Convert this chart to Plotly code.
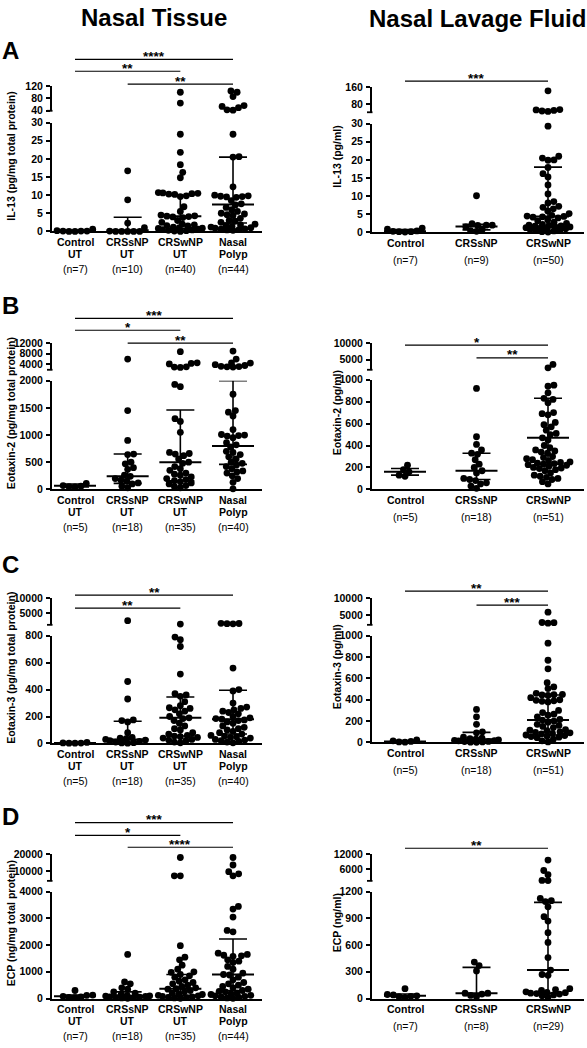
import math
import plotly.graph_objects as go

W, H = 587, 1048
FONT = "Liberation Sans, Arial, Helvetica, sans-serif"

# ---------------- categories ----------------
tissue_cat_line1 = ["Control", "CRSsNP", "CRSwNP", "Nasal"]
tissue_cat_line2 = ["UT", "UT", "UT", "Polyp"]
lavage_cats = ["Control", "CRSsNP", "CRSwNP"]

# ---------------- A: IL-13 ----------------
il13_tissue_n = [7, 10, 40, 44]
il13_tissue_control = [0.6, 0.2, 0.1, 0.1, 0.1, 0.0, 0.0]
il13_tissue_crssnp = [16.7, 8.7, 2.3, 1.0, 0.1, 0.0, 0.0, 0.0, 0.0, 0.0]
il13_tissue_crswnp = [100, 65, 26.8, 21.8, 18.4, 16.3, 14.8, 10.7, 10.6, 10.5, 10.4, 10.3, 10.2, 9.8, 9.6,
                      6.8, 5.5, 4.5, 4.3, 4.2, 4.1, 4.0, 3.8, 3.0, 2.5, 2.0, 1.8, 1.6, 1.5, 1.2, 1.0,
                      0.9, 0.8, 0.6, 0.5, 0.4, 0.3, 0.2, 0.1, 0.0]
il13_tissue_polyp = [104, 100, 86, 57, 54, 50, 43, 42, 26.8, 20.6, 20.5, 12.3, 10.0, 9.8, 9.7, 9.6, 9.5, 9.4,
                     8.5, 7.6, 7.3, 6.6, 6.0, 5.5, 5.0, 4.8, 4.6, 4.4, 3.6, 3.0, 2.8, 2.5, 2.0, 1.8, 1.6,
                     1.4, 1.2, 1.0, 0.9, 0.7, 0.6, 0.5, 0.4, 0.3]
il13_tissue_median = [0.1, 0.3, 4.2, 7.4]
il13_tissue_q1 = [0.0, 0.0, 0.8, 2.3]
il13_tissue_q3 = [0.3, 3.9, 9.9, 20.5]
il13_tissue_lower_ticks = [0, 5, 10, 15, 20, 25, 30]
il13_tissue_upper_ticks = [40, 80, 120]

il13_lavage_n = [7, 9, 50]
il13_lavage_control = [1.2, 0.9, 0.4, 0.3, 0.2, 0.2, 0.1]
il13_lavage_crssnp = [10.1, 2.4, 2.0, 2.0, 1.9, 1.5, 0.8, 0.5, 0.3]
il13_lavage_crswnp = [142, 53, 51, 49, 46, 44, 29.3, 21.0, 20.5, 20.0, 19.9, 17.9, 16.2, 15.3, 13.1, 10.6,
                      8.5, 8.1, 7.2, 6.9, 6.5, 5.9, 5.2, 4.7, 4.5, 4.4, 4.3, 4.2, 4.0, 3.5, 3.2, 2.8, 2.5,
                      2.2, 2.0, 1.9, 1.8, 1.7, 1.6, 1.5, 1.4, 1.3, 1.2, 1.0, 0.8, 0.6, 0.5, 0.4, 0.2, 0.1]
il13_lavage_median = [0.3, 1.6, 4.4]
il13_lavage_q1 = [0.2, 0.7, 1.4]
il13_lavage_q3 = [0.8, 2.2, 18.0]
il13_lavage_lower_ticks = [0, 5, 10, 15, 20, 25, 30]
il13_lavage_upper_ticks = [80, 160]

# ---------------- B: Eotaxin-2 ----------------
eot2_tissue_n = [5, 18, 35, 40]
eot2_tissue_control = [110, 70, 60, 50, 45]
eot2_tissue_crssnp = [6000, 1450, 900, 650, 640, 500, 470, 400, 370, 260, 240, 200, 170, 150, 120, 100, 60, 30]
eot2_tissue_crswnp = [8800, 4600, 4400, 4200, 3100, 3000, 2900, 1930, 1890, 1300, 1250, 1050, 680, 660, 650,
                      620, 560, 500, 480, 420, 380, 350, 300, 280, 260, 230, 200, 180, 160, 140, 120, 100,
                      70, 50, 30]
eot2_tissue_polyp = [9000, 6000, 4600, 4500, 3900, 3600, 3300, 3200, 3100, 3000, 1750, 1450, 1420, 1350, 1100,
                     1010, 1000, 990, 980, 950, 860, 820, 780, 700, 680, 640, 600, 560, 500, 480, 450, 420,
                     380, 340, 320, 300, 250, 200, 130, 10]
eot2_tissue_median = [65, 240, 500, 800]
eot2_tissue_q1 = [45, 110, 160, 460]
eot2_tissue_q3 = [100, 650, 1460, 2000]
eot2_tissue_lower_ticks = [0, 500, 1000, 1500, 2000]
eot2_tissue_upper_ticks = [4000, 8000, 12000]

eot2_lavage_n = [5, 18, 51]
eot2_lavage_control = [220, 180, 160, 130, 120]
eot2_lavage_crssnp = [920, 480, 410, 360, 330, 320, 270, 230, 200, 170, 150, 100, 90, 80, 60, 50, 30, 10]
eot2_lavage_crswnp = [3600, 2600, 950, 940, 880, 830, 820, 790, 700, 690, 680, 610, 590, 570, 540, 510, 500,
                      470, 450, 400, 380, 360, 350, 340, 330, 300, 290, 280, 270, 260, 250, 245, 240, 235,
                      230, 225, 220, 210, 200, 195, 190, 180, 170, 150, 130, 120, 110, 100, 90, 70, 50]
eot2_lavage_median = [160, 170, 470]
eot2_lavage_q1 = [130, 90, 230]
eot2_lavage_q3 = [190, 330, 830]
eot2_lavage_lower_ticks = [0, 200, 400, 600, 800, 1000]
eot2_lavage_upper_ticks = [5000, 10000]

# ---------------- C: Eotaxin-3 ----------------
eot3_tissue_n = [5, 18, 35, 40]
eot3_tissue_control = [8, 4, 3, 2, 2]
eot3_tissue_crssnp = [2400, 460, 330, 175, 170, 160, 80, 45, 40, 35, 30, 25, 20, 15, 10, 6, 4, 2]
eot3_tissue_crswnp = [1250, 790, 770, 720, 515, 370, 360, 350, 310, 280, 265, 260, 250, 240, 220, 200, 190,
                      185, 170, 150, 130, 110, 100, 80, 70, 60, 55, 50, 45, 40, 30, 25, 20, 10, 5]
eot3_tissue_polyp = [1500, 1450, 1400, 1350, 560, 400, 390, 300, 270, 260, 250, 240, 230, 220, 200, 190, 185,
                     180, 175, 170, 160, 150, 130, 120, 110, 100, 90, 80, 70, 60, 55, 50, 45, 40, 30, 25,
                     20, 15, 10, 5]
eot3_tissue_median = [3, 30, 190, 180]
eot3_tissue_q1 = [2, 8, 55, 70]
eot3_tissue_q3 = [6, 165, 345, 395]
eot3_tissue_lower_ticks = [0, 200, 400, 600, 800]
eot3_tissue_upper_ticks = [5000, 10000]

eot3_lavage_n = [5, 18, 51]
eot3_lavage_control = [25, 15, 10, 5, 3]
eot3_lavage_crssnp = [310, 240, 170, 100, 90, 50, 40, 35, 30, 25, 20, 18, 15, 10, 8, 5, 3, 1]
eot3_lavage_crswnp = [5800, 2700, 2650, 2500, 930, 770, 690, 560, 520, 505, 460, 450, 448, 445, 440, 420, 400,
                      395, 390, 385, 380, 300, 280, 265, 255, 240, 215, 210, 200, 190, 170, 160, 150, 140,
                      120, 115, 110, 100, 95, 90, 85, 80, 70, 65, 60, 55, 50, 45, 30, 15, 5]
eot3_lavage_median = [8, 30, 210]
eot3_lavage_q1 = [4, 10, 70]
eot3_lavage_q3 = [18, 95, 445]
eot3_lavage_lower_ticks = [0, 200, 400, 600, 800, 1000]
eot3_lavage_upper_ticks = [5000, 10000]

# ---------------- D: ECP ----------------
ecp_tissue_n = [7, 18, 35, 44]
ecp_tissue_control = [300, 130, 120, 80, 60, 40, 30]
ecp_tissue_crssnp = [1650, 620, 550, 400, 350, 250, 200, 150, 120, 100, 90, 80, 60, 50, 40, 30, 20, 10]
ecp_tissue_crswnp = [18000, 7000, 7000, 1980, 1550, 1450, 1250, 1100, 1000, 980, 900, 850, 800, 700, 650, 600,
                     550, 500, 450, 400, 370, 350, 300, 250, 200, 170, 150, 120, 100, 80, 60, 40, 30, 20, 10]
ecp_tissue_polyp = [18000, 13500, 9500, 8200, 7000, 3450, 3350, 3050, 2550, 2500, 1700, 1650, 1620, 1600, 1580,
                    1450, 1400, 1350, 1200, 1100, 950, 900, 880, 800, 700, 600, 550, 500, 450, 400, 350, 300,
                    270, 250, 200, 180, 150, 120, 100, 80, 60, 40, 20, 10]
ecp_tissue_median = [80, 100, 370, 900]
ecp_tissue_q1 = [30, 40, 120, 300]
ecp_tissue_q3 = [130, 250, 900, 2230]
ecp_tissue_lower_ticks = [0, 1000, 2000, 3000, 4000]
ecp_tissue_upper_ticks = [10000, 20000]

ecp_lavage_n = [7, 8, 29]
ecp_lavage_control = [110, 45, 40, 30, 25, 20, 10]
ecp_lavage_crssnp = [410, 370, 310, 60, 60, 50, 35, 20]
ecp_lavage_crswnp = [9600, 5400, 3700, 1400, 1300, 1125, 1100, 1090, 1030, 920, 870, 740, 630, 460, 320, 270,
                     260, 110, 100, 90, 75, 70, 65, 60, 55, 50, 40, 30, 15]
ecp_lavage_median = [30, 60, 320]
ecp_lavage_q1 = [20, 35, 60]
ecp_lavage_q3 = [50, 350, 1080]
ecp_lavage_lower_ticks = [0, 300, 600, 900, 1200]
ecp_lavage_upper_ticks = [6000, 12000]

# ---------------- layout geometry (pixels) ----------------
L_X0, L_X1, L_C0, L_STEP = 52, 262, 75, 52.67
R_X0, R_X1, R_C0, R_STEP = 372, 584, 405, 71.5
DOT = 6.8
COLL = 6.0
MAXHALF = 22

panels = [
    dict(side="L", groups=[il13_tissue_control, il13_tissue_crssnp, il13_tissue_crswnp, il13_tissue_polyp],
         n=il13_tissue_n, med=il13_tissue_median, q1=il13_tissue_q1, q3=il13_tissue_q3,
         title="IL-13 (pg/mg total protein)", lmax=30, lt=il13_tissue_lower_ticks,
         umin=40, umax=120, ut=il13_tissue_upper_ticks, low=(118, 228), up=(81, 106),
         bars=[(0, 3, 54, "****"), (0, 2, 66, "**"), (1, 3, 79, "**")], letter="A", ly=45),
    dict(side="R", groups=[il13_lavage_control, il13_lavage_crssnp, il13_lavage_crswnp],
         n=il13_lavage_n, med=il13_lavage_median, q1=il13_lavage_q1, q3=il13_lavage_q3,
         title="IL-13 (pg/ml)", lmax=30, lt=il13_lavage_lower_ticks,
         umin=40, umax=160, ut=il13_lavage_upper_ticks, low=(119, 229), up=(82, 107.5),
         bars=[(0, 2, 76, "***")]),
    dict(side="L", groups=[eot2_tissue_control, eot2_tissue_crssnp, eot2_tissue_crswnp, eot2_tissue_polyp],
         n=eot2_tissue_n, med=eot2_tissue_median, q1=eot2_tissue_q1, q3=eot2_tissue_q3,
         title="Eotaxin-2 (pg/mg total protein)", lmax=2000, lt=eot2_tissue_lower_ticks,
         umin=2000, umax=12000, ut=eot2_tissue_upper_ticks, low=(379, 489), up=(341, 368),
         bars=[(0, 3, 316, "***"), (0, 2, 328, "*"), (1, 3, 341, "**")], letter="B", ly=303),
    dict(side="R", groups=[eot2_lavage_control, eot2_lavage_crssnp, eot2_lavage_crswnp],
         n=eot2_lavage_n, med=eot2_lavage_median, q1=eot2_lavage_q1, q3=eot2_lavage_q3,
         title="Eotaxin-2 (pg/ml)", lmax=1000, lt=eot2_lavage_lower_ticks,
         umin=2000, umax=10000, ut=eot2_lavage_upper_ticks, low=(378, 489), up=(341, 368),
         bars=[(0, 2, 343, "*"), (1, 2, 356, "**")]),
    dict(side="L", groups=[eot3_tissue_control, eot3_tissue_crssnp, eot3_tissue_crswnp, eot3_tissue_polyp],
         n=eot3_tissue_n, med=eot3_tissue_median, q1=eot3_tissue_q1, q3=eot3_tissue_q3,
         title="Eotaxin-3 (pg/mg total protein)", lmax=800, lt=eot3_tissue_lower_ticks,
         umin=1000, umax=10000, ut=eot3_tissue_upper_ticks, low=(637, 746), up=(599, 626),
         bars=[(0, 3, 596, "**"), (0, 2, 609, "**")], letter="C", ly=565),
    dict(side="R", groups=[eot3_lavage_control, eot3_lavage_crssnp, eot3_lavage_crswnp],
         n=eot3_lavage_n, med=eot3_lavage_median, q1=eot3_lavage_q1, q3=eot3_lavage_q3,
         title="Eotaxin-3 (pg/ml)", lmax=1000, lt=eot3_lavage_lower_ticks,
         umin=2000, umax=10000, ut=eot3_lavage_upper_ticks, low=(637, 745), up=(599, 626),
         bars=[(0, 2, 592, "**"), (1, 2, 606, "***")]),
    dict(side="L", groups=[ecp_tissue_control, ecp_tissue_crssnp, ecp_tissue_crswnp, ecp_tissue_polyp],
         n=ecp_tissue_n, med=ecp_tissue_median, q1=ecp_tissue_q1, q3=ecp_tissue_q3,
         title="ECP (ng/mg total protein)", lmax=4000, lt=ecp_tissue_lower_ticks,
         umin=4000, umax=20000, ut=ecp_tissue_upper_ticks, low=(896, 1004), up=(858, 885),
         bars=[(0, 3, 826, "***"), (0, 2, 839, "*"), (1, 3, 851, "****")], letter="D", ly=820),
    dict(side="R", groups=[ecp_lavage_control, ecp_lavage_crssnp, ecp_lavage_crswnp],
         n=ecp_lavage_n, med=ecp_lavage_median, q1=ecp_lavage_q1, q3=ecp_lavage_q3,
         title="ECP (ng/ml)", lmax=1200, lt=ecp_lavage_lower_ticks,
         umin=1200, umax=12000, ut=ecp_lavage_upper_ticks, low=(896, 1004), up=(858, 885),
         bars=[(0, 2, 852, "**")]),
]


def swarm(pys, d, maxhalf):
    """Beeswarm x-offsets (px) for points at pixel heights pys, limited to +/- maxhalf."""
    n = len(pys)
    order = sorted(range(n), key=lambda i: -pys[i])
    xs = [0.0] * n
    placed = []
    for k, i in enumerate(order):
        y = pys[i]
        near = [(xj, yj) for (xj, yj) in placed if abs(y - yj) < d]
        forb = []
        for (xj, yj) in near:
            dx = math.sqrt(d * d - (y - yj) ** 2)
            forb.append((xj - dx, xj + dx))
        cands = [0.0] + [a for a, b in forb] + [b for a, b in forb]
        cands.sort(key=lambda c: (round(abs(c), 4), c if k % 2 else -c))
        chosen = None
        for c in cands:
            if abs(c) > maxhalf + 1e-6:
                break
            if all(not (a + 1e-6 < c < b - 1e-6) for a, b in forb):
                chosen = c
                break
        if chosen is None:
            best, bscore = 0.0, None
            steps = int(maxhalf * 2)
            for s in range(-steps, steps + 1):
                c = s / 2.0
                pen = sum(max(0.0, d - math.hypot(c - xj, y - yj)) for (xj, yj) in near)
                score = pen + 0.02 * abs(c)
                if bscore is None or score < bscore:
                    best, bscore = c, score
            chosen = best
        xs[i] = chosen
        placed.append((chosen, y))
    return xs


def yp(px):
    return 1 - px / H


def xp(px):
    return px / W


fig = go.Figure()
layout = {}
annotations = []
shapes = []

tickfont = dict(family=FONT, size=10.5, color="black", weight="bold")

for p, P in enumerate(panels):
    xi, yl, yu = p + 1, 2 * p + 1, 2 * p + 2
    xname = "x" if xi == 1 else f"x{xi}"
    ylname = "y" if yl == 1 else f"y{yl}"
    yuname = f"y{yu}"
    if P["side"] == "L":
        X0, X1, C0, STEP = L_X0, L_X1, L_C0, L_STEP
    else:
        X0, X1, C0, STEP = R_X0, R_X1, R_C0, R_STEP
    r0, r1 = (X0 - C0) / STEP, (X1 - C0) / STEP
    lt_px, lb_px = P["low"]
    ut_px, ub_px = P["up"]
    lmax, umin, umax = P["lmax"], P["umin"], P["umax"]

    layout["xaxis" + ("" if xi == 1 else str(xi))] = dict(
        domain=[xp(X0), xp(X1)], range=[r0, r1], anchor=ylname, showline=True, linewidth=2,
        linecolor="black", showticklabels=False, ticks="", showgrid=False, zeroline=False, fixedrange=True)
    yax_common = dict(anchor=xname, showline=True, linewidth=2, linecolor="black", ticks="outside",
                      ticklen=4, tickwidth=1.6, tickcolor="black", showgrid=False, zeroline=False,
                      tickfont=tickfont, fixedrange=True, ticklabelstandoff=1)
    layout["yaxis" + ("" if yl == 1 else str(yl))] = dict(
        domain=[yp(lb_px), yp(lt_px)], range=[0, lmax], tickvals=P["lt"],
        ticktext=[str(v) for v in P["lt"]], **yax_common)
    layout["yaxis" + str(yu)] = dict(
        domain=[yp(ub_px), yp(ut_px)], range=[umin, umax], tickvals=P["ut"],
        ticktext=[str(v) for v in P["ut"]], **yax_common)

    def to_px(v):
        if v <= lmax:
            return lb_px - v / lmax * (lb_px - lt_px)
        return ub_px - (v - umin) / (umax - umin) * (ub_px - ut_px)

    lx, ly, ux, uy = [], [], [], []
    for gi, vals in enumerate(P["groups"]):
        offs = swarm([to_px(v) for v in vals], COLL, MAXHALF)
        for v, o in zip(vals, offs):
            if v <= lmax:
                lx.append(gi + o / STEP)
                ly.append(v)
            else:
                ux.append(gi + o / STEP)
                uy.append(v)
    mk = dict(size=DOT, color="black", line=dict(width=0))
    fig.add_trace(go.Scatter(x=lx, y=ly, xaxis=xname, yaxis=ylname, mode="markers", marker=mk,
                             cliponaxis=False, showlegend=False, hoverinfo="skip"))
    fig.add_trace(go.Scatter(x=ux, y=uy, xaxis=xname, yaxis=yuname, mode="markers", marker=mk,
                             cliponaxis=False, showlegend=False, hoverinfo="skip"))

    # median and interquartile range
    mh, ch = 21 / STEP, 14 / STEP
    mxs, mys, ex, ey = [], [], [], []
    for gi in range(len(P["groups"])):
        m, a, b = P["med"][gi], P["q1"][gi], P["q3"][gi]
        mxs += [gi - mh, gi + mh, None]
        mys += [m, m, None]
        ex += [gi, gi, None, gi - ch, gi + ch, None, gi - ch, gi + ch, None]
        ey += [a, b, None, a, a, None, b, b, None]
    fig.add_trace(go.Scatter(x=ex, y=ey, xaxis=xname, yaxis=ylname, mode="lines",
                             line=dict(color="black", width=1.6), cliponaxis=False,
                             showlegend=False, hoverinfo="skip"))
    fig.add_trace(go.Scatter(x=mxs, y=mys, xaxis=xname, yaxis=ylname, mode="lines",
                             line=dict(color="black", width=2), cliponaxis=False,
                             showlegend=False, hoverinfo="skip"))

    # break cap at bottom of upper segment
    shapes.append(dict(type="line", xref="paper", yref="paper", x0=xp(X0 - 5), x1=xp(X0 + 0.5),
                       y0=yp(ub_px), y1=yp(ub_px), line=dict(color="black", width=1.8)))

    # significance bars
    for a, b, ypx, stars in P["bars"]:
        shapes.append(dict(type="line", xref=xname, yref="paper", x0=a, x1=b, y0=yp(ypx), y1=yp(ypx),
                           line=dict(color="black", width=1.2)))
        annotations.append(dict(x=(a + b) / 2, xref=xname, y=yp(ypx - 3), yref="paper",
                                text=f"<b>{stars}</b>", showarrow=False, yanchor="middle",
                                xanchor="center", font=dict(family=FONT, size=13.5, color="black")))

    # category labels
    for gi in range(len(P["groups"])):
        if P["side"] == "L":
            lines = [(tissue_cat_line1[gi], 11, True), (tissue_cat_line2[gi], 23, True),
                     (f"(n={P['n'][gi]})", 38, False)]
        else:
            lines = [(lavage_cats[gi], 11, True), (f"(n={P['n'][gi]})", 28, False)]
        for txt, off, bold in lines:
            annotations.append(dict(x=gi, xref=xname, y=yp(lb_px + off), yref="paper",
                                    text=f"<b>{txt}</b>" if bold else txt, showarrow=False,
                                    xanchor="center", yanchor="middle",
                                    font=dict(family=FONT, size=10.5, color="black")))

    # y axis title
    tx = 11 if P["side"] == "L" else 337
    annotations.append(dict(x=xp(tx), xref="paper", y=yp((ut_px + lb_px) / 2 - 3), yref="paper",
                            text=f"<b>{P['title']}</b>", textangle=-90, showarrow=False,
                            xanchor="center", yanchor="middle",
                            font=dict(family=FONT, size=10.5, color="black")))

    # panel letter
    if "letter" in P:
        annotations.append(dict(x=0, xref="paper", y=yp(P["ly"]), yref="paper",
                                text=f"<b>{P['letter']}</b>", showarrow=False, xanchor="left",
                                yanchor="middle", font=dict(family=FONT, size=24, color="black")))

annotations.append(dict(x=xp(154), xref="paper", y=yp(12), yref="paper", text="<b>Nasal Tissue</b>",
                        showarrow=False, xanchor="center", yanchor="middle",
                        font=dict(family=FONT, size=24, color="black")))
annotations.append(dict(x=xp(477), xref="paper", y=yp(13), yref="paper", text="<b>Nasal Lavage Fluid</b>",
                        showarrow=False, xanchor="center", yanchor="middle",
                        font=dict(family=FONT, size=24, color="black")))

fig.update_layout(
    width=W, height=H, autosize=False,
    margin=dict(l=0, r=0, t=0, b=0),
    paper_bgcolor="white", plot_bgcolor="white",
    font=dict(family=FONT, color="black"),
    showlegend=False,
    annotations=annotations, shapes=shapes,
    **layout,
)

fig.write_html("out.html", config={"displayModeBar": False},
               post_script="document.body.style.margin='0';")
